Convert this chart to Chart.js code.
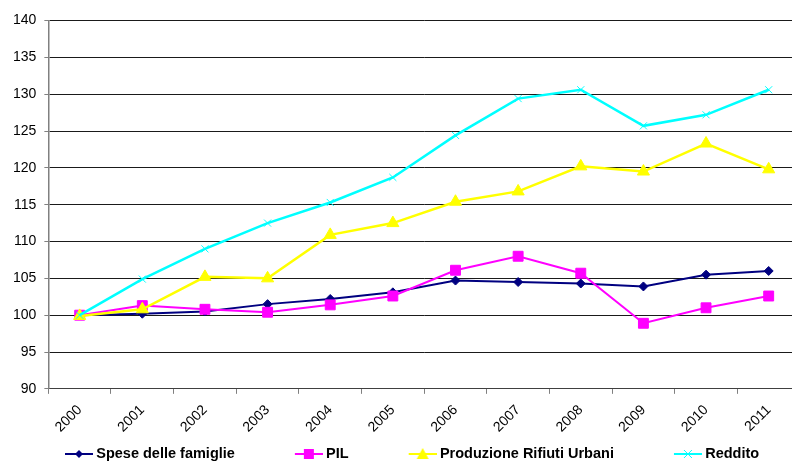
<!DOCTYPE html>
<html>
<head>
<meta charset="utf-8">
<script src="https://cdn.jsdelivr.net/npm/chart.js@4.4.1/dist/chart.umd.min.js"></script>
<style>
  html, body { margin: 0; padding: 0; background: #fff; overflow: hidden; }
  #wrap { position: relative; width: 808px; height: 472px; }
</style>
</head>
<body>
<div id="wrap"><canvas id="grafico"></canvas></div>
<script>
// dati (indice 2000 = 100)
const anni = ['2000', '2001', '2002', '2003', '2004', '2005', '2006', '2007', '2008', '2009', '2010', '2011'];
const speseFamiglie = [100, 100.2, 100.5, 101.5, 102.2, 103.1, 104.7, 104.5, 104.3, 103.9, 105.5, 106.0];
const pil = [100, 101.3, 100.8, 100.4, 101.4, 102.6, 106.1, 108.0, 105.7, 98.9, 101.0, 102.6];
const rifiutiUrbani = [99.9, 100.8, 105.2, 105.0, 110.9, 112.5, 115.4, 116.8, 120.2, 119.5, 123.3, 119.8];
const reddito = [100, 104.9, 109.0, 112.5, 115.3, 118.7, 124.4, 129.4, 130.6, 125.7, 127.2, 130.6];

// simbolo della legenda: linea con marcatore (stile Excel)
function simboloLegenda(colore, stile) {
    const c = document.createElement('canvas');
    c.width = 89; c.height = 14;
    const g = c.getContext('2d');
    g.strokeStyle = colore; g.fillStyle = colore; g.lineWidth = 2;
    g.beginPath(); g.moveTo(61, 7); g.lineTo(89, 7); g.stroke();
    const cx = 75, cy = 7;
    g.beginPath();
    if (stile === 'rombo') {
        g.moveTo(cx, cy - 4); g.lineTo(cx + 4, cy); g.lineTo(cx, cy + 4); g.lineTo(cx - 4, cy); g.closePath(); g.fill();
    } else if (stile === 'quadrato') {
        g.fillRect(cx - 5, cy - 5, 10, 10);
    } else if (stile === 'triangolo') {
        g.moveTo(cx, cy - 6); g.lineTo(cx + 6, cy + 5); g.lineTo(cx - 6, cy + 5); g.closePath(); g.fill();
    } else {
        g.lineWidth = 1;
        g.moveTo(cx - 4, cy - 4); g.lineTo(cx + 4, cy + 4);
        g.moveTo(cx + 4, cy - 4); g.lineTo(cx - 4, cy + 4); g.stroke();
    }
    return c;
}

const simboli = [
    simboloLegenda('#000080', 'rombo'),
    simboloLegenda('#FF00FF', 'quadrato'),
    simboloLegenda('#FFFF00', 'triangolo'),
    simboloLegenda('#00FFFF', 'croce')
];

const ctx = document.getElementById('grafico');
new Chart(ctx.getContext('2d'), {
    type: 'line',
    data: {
        labels: anni,
        datasets: [
            {
                label: 'Spese delle famiglie',
                data: speseFamiglie,
                borderColor: '#000080',
                backgroundColor: '#000080',
                borderWidth: 2,
                pointStyle: 'rectRot',
                pointRadius: 4.5,
                pointBorderWidth: 1,
                order: 4
            },
            {
                label: 'PIL',
                data: pil,
                borderColor: '#FF00FF',
                backgroundColor: '#FF00FF',
                borderWidth: 2,
                pointStyle: 'rect',
                pointRadius: 7,
                pointBorderWidth: 1,
                order: 3
            },
            {
                label: 'Produzione Rifiuti Urbani',
                data: rifiutiUrbani,
                borderColor: '#FFFF00',
                backgroundColor: '#FFFF00',
                borderWidth: 2.5,
                pointStyle: 'triangle',
                pointRadius: 7,
                pointBorderWidth: 1,
                order: 2
            },
            {
                label: 'Reddito',
                data: reddito,
                borderColor: '#00FFFF',
                backgroundColor: '#00FFFF',
                borderWidth: 2.5,
                pointStyle: 'crossRot',
                pointRadius: 5,
                pointBorderWidth: 1,
                order: 1
            }
        ]
    },
    options: {
        responsive: true,
        maintainAspectRatio: false,
        animation: false,
        layout: {
            padding: { left: 5, top: 20.5, right: 0, bottom: 0.75 }
        },
        plugins: {
            tooltip: { enabled: false },
            legend: {
                position: 'bottom',
                align: 'start',
                labels: {
                    usePointStyle: true,
                    pointStyleWidth: 81,
                    boxHeight: 14,
                    padding: 3,
                    color: '#000',
                    font: { family: 'Liberation Sans, Arial, sans-serif', size: 14.5, weight: 'bold' },
                    generateLabels: function (chart) {
                        return chart.data.datasets.map(function (ds, i) {
                            return {
                                text: ds.label,
                                pointStyle: simboli[i],
                                fillStyle: ds.borderColor,
                                strokeStyle: ds.borderColor,
                                lineWidth: 0,
                                datasetIndex: i,
                                hidden: false
                            };
                        });
                    }
                }
            }
        },
        scales: {
            x: {
                offset: true,
                grid: {
                    offset: true,
                    drawOnChartArea: false,
                    drawTicks: true,
                    tickLength: 5,
                    color: '#808080'
                },
                border: { color: '#404040', width: 1 },
                ticks: {
                    color: '#000',
                    minRotation: 45,
                    maxRotation: 45,
                    padding: 8,
                    font: { family: 'Liberation Sans, Arial, sans-serif', size: 14 }
                }
            },
            y: {
                min: 90,
                max: 140,
                ticks: {
                    stepSize: 5,
                    color: '#000',
                    padding: 8,
                    font: { family: 'Liberation Sans, Arial, sans-serif', size: 14 }
                },
                grid: {
                    color: '#1a1a1a',
                    lineWidth: 1,
                    tickLength: 4,
                    tickColor: '#808080'
                },
                border: { color: '#808080', width: 1.5 }
            }
        }
    }
});
</script>
</body>
</html>
